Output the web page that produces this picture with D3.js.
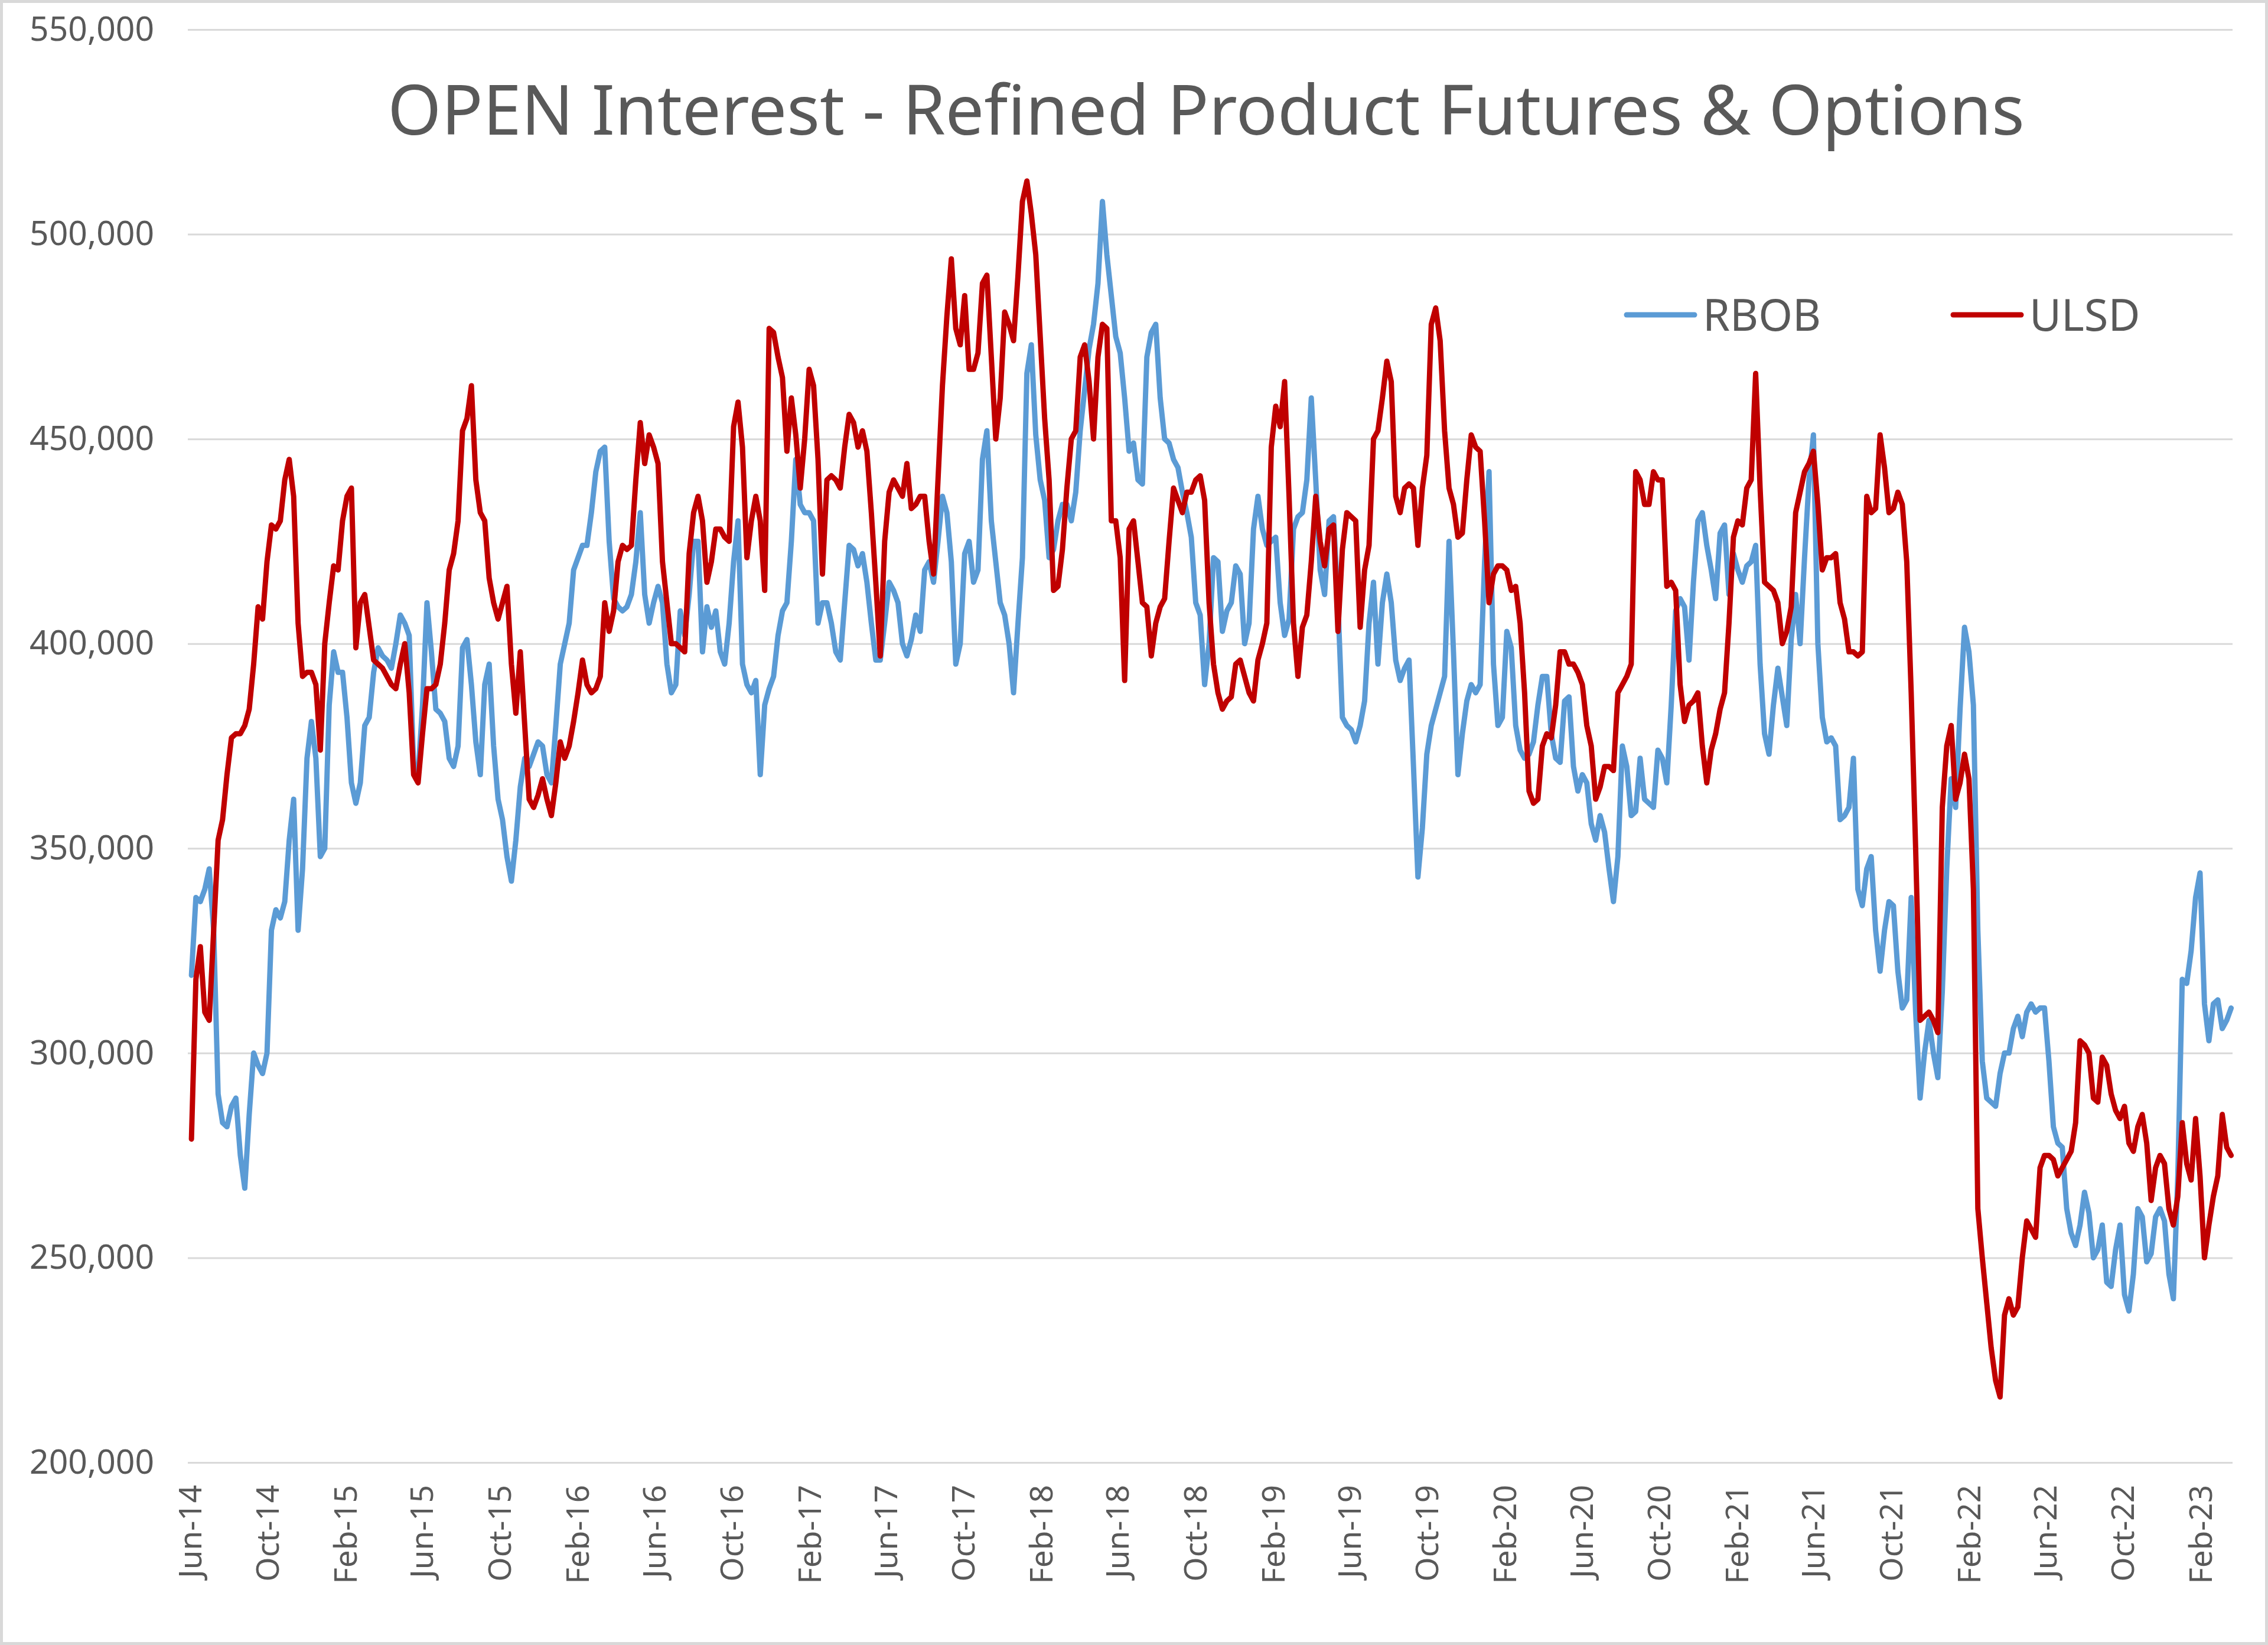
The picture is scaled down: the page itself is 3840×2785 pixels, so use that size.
<!DOCTYPE html>
<html>
<head>
<meta charset="utf-8">
<script src="https://cdn.jsdelivr.net/npm/d3@7"></script>
<style>
  body { margin: 0; background: #fff; }
  text { font-family: "Noto Sans", "Open Sans", sans-serif; fill: #595959; }
</style>
</head>
<body>
<div id="chart"></div>
<script>
// chart size (matches the reference picture)
const width = 3840;
const height = 2785;

// weekly open interest, thousands of contracts, first week = 3 Jun 2014
const startDate = new Date(2014, 5, 3);

const rbob = [
  319, 338, 337, 340, 345, 330, 290, 283, 282, 287,
  289, 275, 267, 285, 300, 297, 295, 300, 330, 335,
  333, 337, 352, 362, 330, 345, 372, 381, 372, 348,
  350, 385, 398, 393, 393, 382, 366, 361, 366, 380,
  382, 393, 399, 397, 396, 394, 400, 407, 405, 402,
  370, 368, 385, 410, 398, 384, 383, 381, 372, 370,
  375, 399, 401, 390, 376, 368, 390, 395, 375, 362,
  357, 348, 342, 352, 365, 372, 370, 373, 376, 375,
  368, 366, 380, 395, 400, 405, 418, 421, 424, 424,
  432, 442, 447, 448, 425, 411, 409, 408, 409, 412,
  420, 432, 412, 405, 410, 414, 410, 395, 388, 390,
  408, 402, 412, 425, 425, 398, 409, 404, 408, 398,
  395, 405, 420, 430, 395, 390, 388, 391, 368, 385,
  389, 392, 402, 408, 410, 425, 445, 434, 432, 432,
  430, 405, 410, 410, 405, 398, 396, 410, 424, 423,
  419, 422, 415, 405, 396, 396, 405, 415, 413, 410,
  400, 397, 401, 407, 403, 418, 420, 415, 425, 436,
  432, 420, 395, 400, 422, 425, 415, 418, 445, 452,
  430, 420, 410, 407, 400, 388, 405, 421, 466, 473,
  451, 440, 435, 421, 423, 430, 434, 434, 430, 437,
  452, 462, 472, 478, 488, 508, 495, 485, 475, 471,
  460, 447, 449, 440, 439, 470, 476, 478, 460, 450,
  449, 445, 443, 437, 432, 426, 410, 407, 390, 400,
  421, 420, 403, 408, 410, 419, 417, 400, 405, 428,
  436, 428, 424, 425, 426, 410, 402, 406, 428, 431,
  432, 440, 460, 440, 418, 412, 430, 431, 410, 382,
  380, 379, 376, 380, 386, 405, 415, 395, 410, 417,
  410, 396, 391, 394, 396, 370, 343, 355, 373, 380,
  384, 388, 392, 425, 398, 368, 378, 386, 390, 388,
  390, 420, 442, 395, 380, 382, 403, 399, 380, 374,
  372, 373, 376, 385, 392, 392, 378, 372, 371, 386,
  387, 370, 364, 368, 366, 356, 352, 358, 354, 345,
  337, 348, 375, 370, 358, 359, 372, 362, 361, 360,
  374, 372, 366, 385, 408, 411, 409, 396, 415, 430,
  432, 424, 418, 411, 427, 429, 412, 422, 418, 415,
  419, 420, 424, 395, 378, 373, 385, 394, 387, 380,
  401, 412, 400, 421, 440, 451, 400, 382, 376, 377,
  375, 357, 358, 360, 372, 340, 336, 345, 348, 330,
  320, 330, 337, 336, 320, 311, 313, 338, 310, 289,
  300, 308, 300, 294, 315, 345, 367, 360, 384, 404,
  398, 385, 330, 298, 289, 288, 287, 295, 300, 300,
  306, 309, 304, 310, 312, 310, 311, 311, 298, 282,
  278, 277, 262, 256, 253, 258, 266, 261, 250, 252,
  258, 244, 243, 252, 258, 241, 237, 246, 262, 260,
  249, 251, 260, 262, 259, 246, 240, 270, 318, 317,
  325, 338, 344, 312, 303, 312, 313, 306, 308, 311
];

const ulsd = [
  279, 318, 326, 310, 308, 330, 352, 357, 368, 377,
  378, 378, 380, 384, 395, 409, 406, 420, 429, 428,
  430, 440, 445, 436, 405, 392, 393, 393, 390, 374,
  400, 410, 419, 418, 430, 436, 438, 399, 410, 412,
  404, 396, 395, 394, 392, 390, 389, 395, 400, 388,
  368, 366, 378, 389, 389, 390, 395, 405, 418, 422,
  430, 452, 455, 463, 440, 432, 430, 416, 410, 406,
  410, 414, 395, 383, 398, 380, 362, 360, 363, 367,
  362, 358, 366, 376, 372, 375, 381, 388, 396, 390,
  388, 389, 392, 410, 403, 408, 420, 424, 423, 424,
  440, 454, 444, 451, 448, 444, 420, 410, 400, 400,
  399, 398, 422, 432, 436, 430, 415, 420, 428, 428,
  426, 425, 453, 459, 448, 421, 430, 436, 430, 413,
  477, 476, 470, 465, 447, 460, 451, 438, 450, 467,
  463, 445, 417, 440, 441, 440, 438, 448, 456, 454,
  448, 452, 447, 432, 415, 397, 425, 437, 440, 438,
  436, 444, 433, 434, 436, 436, 425, 417, 440, 463,
  480, 494, 477, 473, 485, 467, 467, 471, 488, 490,
  470, 450, 460, 481, 478, 474, 490, 508, 513, 505,
  495, 475, 455, 440, 413, 414, 423, 438, 450, 452,
  470, 473, 464, 450, 470, 478, 477, 430, 430, 421,
  391, 428, 430, 420, 410, 409, 397, 405, 409, 411,
  425, 438, 435, 432, 437, 437, 440, 441, 435, 410,
  395, 388, 384, 386, 387, 395, 396, 392, 388, 386,
  396, 400, 405, 448, 458, 453, 464, 436, 405, 392,
  404, 407, 420, 436, 425, 419, 428, 429, 403, 423,
  432, 431, 430, 404, 418, 424, 450, 452, 460, 469,
  464, 436, 432, 438, 439, 438, 424, 438, 446, 478,
  482, 474, 452, 438, 434, 426, 427, 440, 451, 448,
  447, 430, 410, 417, 419, 419, 418, 413, 414, 405,
  388, 364, 361, 362, 375, 378, 377, 385, 398, 398,
  395, 395, 393, 390, 380, 375, 362, 365, 370, 370,
  369, 388, 390, 392, 395, 442, 440, 434, 434, 442,
  440, 440, 414, 415, 413, 390, 381, 385, 386, 388,
  375, 366, 374, 378, 384, 388, 405, 426, 430, 429,
  438, 440, 466, 438, 415, 414, 413, 410, 400, 403,
  409, 432, 437, 442, 444, 447, 434, 418, 421, 421,
  422, 410, 406, 398, 398, 397, 398, 436, 432, 433,
  451, 443, 432, 433, 437, 434, 420, 388, 350, 308,
  309, 310, 308, 305, 360, 375, 380, 362, 366, 373,
  367, 340, 262, 250, 239, 228, 220, 216, 236, 240,
  236, 238, 250, 259, 257, 255, 272, 275, 275, 274,
  270, 272, 274, 276, 283, 303, 302, 300, 289, 288,
  299, 297, 290, 286, 284, 287, 278, 276, 282, 285,
  278, 264, 272, 275, 273, 262, 258, 265, 283, 273,
  269, 284, 270, 250, 258, 265, 270, 285, 277, 275
];

const seriesNames = ["RBOB", "ULSD"];
const seriesColors = ["#5B9BD5", "#C00000"];

const yTicks = [200000, 250000, 300000, 350000, 400000, 450000, 500000, 550000];

const xTickLabels = [
  "Jun-14", "Oct-14", "Feb-15", "Jun-15", "Oct-15", "Feb-16", "Jun-16",
  "Oct-16", "Feb-17", "Jun-17", "Oct-17", "Feb-18", "Jun-18", "Oct-18",
  "Feb-19", "Jun-19", "Oct-19", "Feb-20", "Jun-20", "Oct-20", "Feb-21",
  "Jun-21", "Oct-21", "Feb-22", "Jun-22", "Oct-22", "Feb-23"
];

const parseTick = d3.timeParse("%b-%y");
const xTickDates = xTickLabels.map(parseTick);

// build the rows for each series
function toRows(values) {
  return values.map((v, i) => ({date: d3.timeDay.offset(startDate, 7 * i), value: v * 1000}));
}
const rows = [toRows(rbob), toRows(ulsd)];

const svg = d3.select("#chart")
  .append("svg")
  .attr("width", width)
  .attr("height", height);

// white background with the light frame
svg.append("rect")
  .attr("x", 2.5).attr("y", 2.5)
  .attr("width", width - 5).attr("height", height - 5)
  .attr("fill", "#fff")
  .attr("stroke", "#d9d9d9")
  .attr("stroke-width", 5);

// scales: Jun-14 tick sits at 322px, Feb-23 tick at 3726px
let xScale = d3.scaleTime()
  .domain([xTickDates[0], xTickDates[xTickDates.length - 1]])
  .range([322, 3726]);

let yScale = d3.scaleLinear()
  .domain([200000, 550000])
  .range([2476, 50]);

const plotLeft = 318;
const plotRight = 3780;

// y axis + gridlines
const yAxis = svg.append("g")
  .attr("transform", `translate(${plotLeft},0)`)
  .call(d3.axisLeft(yScale)
    .tickValues(yTicks)
    .tickSize(-(plotRight - plotLeft))
    .tickPadding(57)
    .tickFormat(d3.format(",")));
yAxis.select(".domain").remove();
yAxis.selectAll("line").attr("stroke", "#d9d9d9").attr("stroke-width", 3);
yAxis.selectAll("text")
  .attr("font-size", 57)
  .style("fill", "#595959");

// x axis labels, rotated
const xAxis = svg.append("g")
  .attr("transform", `translate(0,${yScale(200000)})`)
  .call(d3.axisBottom(xScale)
    .tickValues(xTickDates)
    .tickSize(0)
    .tickFormat((d, i) => xTickLabels[i]));
xAxis.select(".domain").remove();
xAxis.selectAll("text")
  .attr("font-size", 53)
  .style("fill", "#595959")
  .attr("text-anchor", "end")
  .attr("transform", "translate(0,38) rotate(-90)")
  .attr("x", 0)
  .attr("y", 0)
  .attr("dy", "0.35em");

// lines, ULSD drawn last so it sits on top
const line = d3.line()
  .x(d => xScale(d.date))
  .y(d => yScale(d.value));

rows.forEach((r, i) => {
  svg.append("path")
    .datum(r)
    .attr("fill", "none")
    .attr("stroke", seriesColors[i])
    .attr("stroke-width", 9)
    .attr("stroke-linejoin", "round")
    .attr("stroke-linecap", "round")
    .attr("d", line);
});

// title, fitted to the width it has in the reference
const title = svg.append("text")
  .attr("x", 2042)
  .attr("y", 228)
  .attr("text-anchor", "middle")
  .attr("font-size", 100)
  .style("fill", "#595959")
  .text("OPEN Interest - Refined Product Futures & Options");
const tw = title.node().getComputedTextLength();
title.attr("font-size", 100 * 2772 / tw);

// legend
const legendX = [2754, 3307];
const legendY = 533;
seriesNames.forEach((name, i) => {
  svg.append("line")
    .attr("x1", legendX[i]).attr("x2", legendX[i] + 115)
    .attr("y1", legendY).attr("y2", legendY)
    .attr("stroke", seriesColors[i])
    .attr("stroke-width", 9)
    .attr("stroke-linecap", "round");
  svg.append("text")
    .attr("x", legendX[i] + 129)
    .attr("y", legendY)
    .attr("dy", "0.36em")
    .attr("font-size", 74)
    .style("fill", "#595959")
    .text(name);
});
</script>
</body>
</html>
